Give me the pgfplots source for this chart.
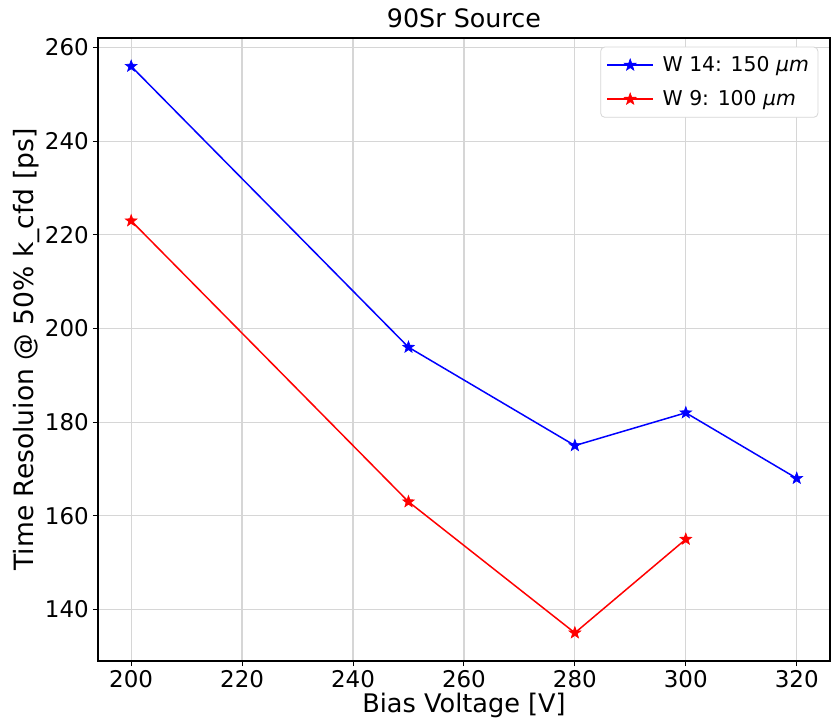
\documentclass[border=0pt]{standalone}
\usepackage{fontspec}
\setmainfont{DejaVu Sans}
\usepackage{pgfplots}
\pgfplotsset{compat=1.18}
\definecolor{gridgray}{HTML}{D6D6D6}
% filled five-point star, like matplotlib's '*'
\pgfdeclareplotmark{fstar}{%
  \pgfpathmoveto{\pgfpointpolar{90}{\pgfplotmarksize}}%
  \pgfpathlineto{\pgfpointpolar{126}{0.41\pgfplotmarksize}}%
  \pgfpathlineto{\pgfpointpolar{162}{\pgfplotmarksize}}%
  \pgfpathlineto{\pgfpointpolar{198}{0.41\pgfplotmarksize}}%
  \pgfpathlineto{\pgfpointpolar{234}{\pgfplotmarksize}}%
  \pgfpathlineto{\pgfpointpolar{270}{0.41\pgfplotmarksize}}%
  \pgfpathlineto{\pgfpointpolar{306}{\pgfplotmarksize}}%
  \pgfpathlineto{\pgfpointpolar{342}{0.41\pgfplotmarksize}}%
  \pgfpathlineto{\pgfpointpolar{18}{\pgfplotmarksize}}%
  \pgfpathlineto{\pgfpointpolar{54}{0.41\pgfplotmarksize}}%
  \pgfpathclose
  \pgfusepathqfillstroke}
\begin{document}
\begin{tikzpicture}
\begin{axis}[
    scale only axis,
    width=366.5pt, height=312pt,
    xmin=194, xmax=326,
    ymin=128.95, ymax=262.05,
    xtick={200,220,...,320},
    ytick={140,160,...,260},
    xtick pos=bottom, ytick pos=left,
    /pgf/number format/assume math mode=true,
    ticklabel style={font=\fontsize{11.5}{13}\selectfont},
    xticklabel style={yshift=1.5pt},
    yticklabel style={xshift=1.5pt},
    tick align=outside,
    major tick length=2.5pt,
    tick style={black, line width=0.5pt},
    axis line style={black, line width=1pt},
    grid=major,
    grid style={gridgray, line width=0.6pt},
    xlabel={Bias Voltage [V]},
    ylabel={Time Resoluion @ 50\% k\_cfd [ps]},
    xlabel style={font=\fontsize{12.8}{15}\selectfont, yshift=4pt},
    ylabel style={font=\fontsize{13.3}{15}\selectfont, yshift=-4.5pt},
    title={90Sr Source},
    title style={font=\fontsize{12.7}{15}\selectfont, yshift=-4.5pt},
    legend style={at={(0.984,0.986)}, anchor=north east, font=\fontsize{10.2}{12}\selectfont,
        draw=gridgray, rounded corners=2pt, inner sep=3pt, row sep=5pt, column sep=3pt,
        nodes={inner sep=1.5pt}},
    legend cell align=left,
    legend image code/.code={%
        \draw[mark repeat=2,mark phase=2] plot coordinates {(0cm,0cm) (0.4cm,0cm) (0.8cm,0cm)};},
]
\addplot[blue, line width=0.75pt, mark=fstar, mark size=3.1pt, mark options={fill=blue, line width=0.3pt}]
    coordinates {(200,256) (250,196) (280,175) (300,182) (320,168)};
\addlegendentry{W 14: 150 {\itshape μm}}
\addplot[red, line width=0.75pt, mark=fstar, mark size=3.1pt, mark options={fill=red, line width=0.3pt}]
    coordinates {(200,223) (250,163) (280,135) (300,155)};
\addlegendentry{W 9: 100 {\itshape μm}}
\end{axis}
\path ([xshift=-49pt,yshift=-30pt]current axis.south west) rectangle ([yshift=19pt]current axis.north east);
\end{tikzpicture}
\end{document}
